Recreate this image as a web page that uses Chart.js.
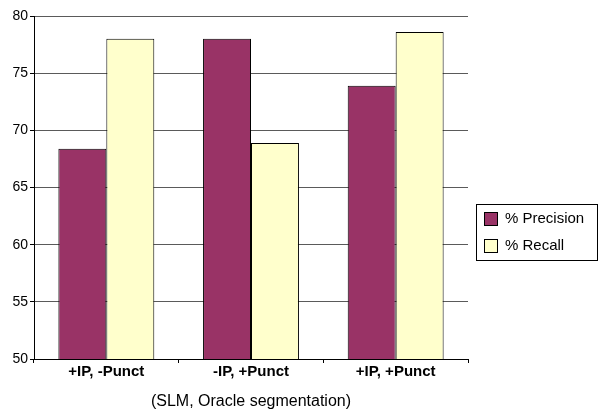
<!DOCTYPE html>
<html>
<head>
<meta charset="utf-8">
<script src="https://cdn.jsdelivr.net/npm/chart.js@4.4.1/dist/chart.umd.min.js"></script>
<style>
  html, body { margin: 0; padding: 0; background: #fff; }
  #wrap { width: 600px; height: 411px; }
</style>
</head>
<body>
<div id="wrap"><canvas id="c" width="600" height="411"></canvas></div>
<script>
// data
const categories = ["+IP, -Punct", "-IP, +Punct", "+IP, +Punct"];
const precision = [68.4, 78.0, 73.9];
const recall = [78.0, 68.9, 78.6];
const seriesNames = ["% Precision", "% Recall"];
const seriesColors = ["#993366", "#FFFFCC"];
const yMin = 50, yMax = 80, yStep = 5;
const xTitle = "(SLM, Oracle segmentation)";

const FONT = "'Liberation Sans', Arial, sans-serif";

// legend box drawn on the right, like the old Excel one
const boxLegend = {
  id: 'boxLegend',
  afterDraw(chart) {
    const ctx = chart.ctx;
    ctx.save();
    ctx.strokeStyle = '#000';
    ctx.lineWidth = 1;
    ctx.strokeRect(476.5, 204.5, 121, 56);
    chart.data.datasets.forEach((ds, i) => {
      const y = 212 + i * 27;
      ctx.fillStyle = ds.backgroundColor;
      ctx.fillRect(484, y, 13, 13);
      ctx.strokeRect(484.5, y + 0.5, 13, 13);
      ctx.fillStyle = '#000';
      ctx.font = '15px ' + FONT;
      ctx.textBaseline = 'middle';
      ctx.fillText(ds.label, 505, y + 7);
    });
    ctx.restore();
  }
};

const ctx = document.getElementById('c').getContext('2d');
const chart = new Chart(ctx, {
  type: 'bar',
  data: {
    labels: categories,
    datasets: [
      { label: seriesNames[0], data: precision, backgroundColor: seriesColors[0], borderColor: '#000', borderWidth: 1 },
      { label: seriesNames[1], data: recall, backgroundColor: seriesColors[1], borderColor: '#000', borderWidth: 1 }
    ]
  },
  options: {
    responsive: false,
    animation: false,
    layout: { padding: { top: 16, right: 132, bottom: 0, left: 0 } },
    datasets: {
      bar: { categoryPercentage: 0.663, barPercentage: 1.0 }
    },
    plugins: {
      legend: { display: false },
      tooltip: { enabled: false }
    },
    scales: {
      x: {
        grid: { drawOnChartArea: false, drawTicks: true, tickLength: 4, color: '#000', offset: true },
        border: { color: '#000', width: 1 },
        ticks: { color: '#000', font: { family: FONT, size: 15, weight: 'bold' }, padding: 0 },
        title: { display: true, text: xTitle, color: '#000', font: { family: FONT, size: 16 }, padding: { top: 1, bottom: 0 } },
        afterFit(scale) { scale.height = 52; }
      },
      y: {
        min: yMin,
        max: yMax,
        ticks: { stepSize: yStep, color: '#000', font: { family: FONT, size: 14 }, padding: 2 },
        grid: { color: '#5a5a5a', tickLength: 4, tickColor: '#000' },
        border: { color: '#000', width: 1 },
        afterFit(scale) { scale.width = 34; }
      }
    }
  },
  plugins: [boxLegend]
});
</script>
</body>
</html>
